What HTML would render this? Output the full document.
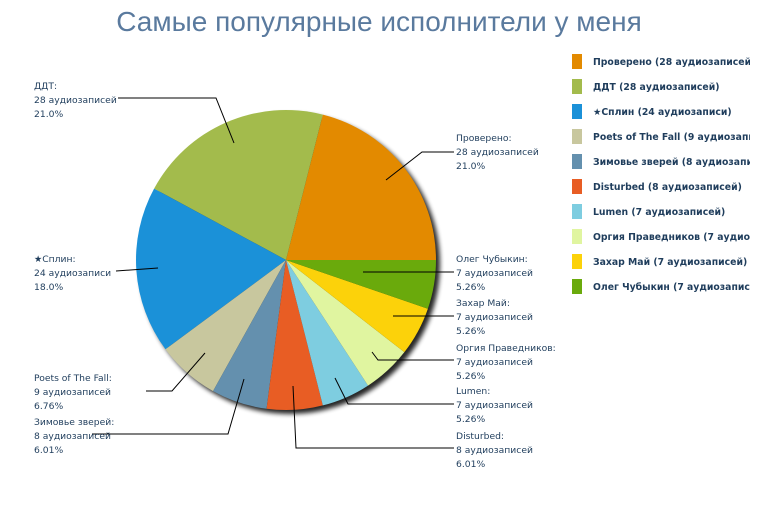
<!DOCTYPE html>
<html><head><meta charset="utf-8"><style>
html,body{margin:0;padding:0;background:#fff;}
body{width:760px;height:510px;overflow:hidden;position:relative;}
svg{position:absolute;left:0;top:0;}
.t{font-family:"DejaVu Sans","Liberation Sans",sans-serif;font-size:9.2px;fill:#1f3d5c;}
.lg{font-family:"DejaVu Sans","Liberation Sans",sans-serif;font-size:9.3px;font-weight:bold;fill:#1f3d5c;}
</style></head><body>
<svg width="760" height="510" viewBox="0 0 760 510">
<defs>
<filter id="sh" x="-20%" y="-20%" width="140%" height="140%"><feGaussianBlur stdDeviation="2.5"/></filter>
<clipPath id="cl"><rect x="0" y="0" width="750" height="510"/></clipPath>
</defs>
<text x="379" y="31" text-anchor="middle" font-family="Liberation Sans, sans-serif" font-size="28" fill="#5a7a9e">Самые популярные исполнители у меня</text>
<circle cx="290" cy="264" r="150" fill="#000" opacity="0.85" filter="url(#sh)"/>
<g id="pie"></g>
<g stroke="#000" stroke-width="1" fill="none">
<polyline points="386,180 422,152 454,152"/>
<polyline points="234,143 216,98 118,98"/>
<polyline points="158,268 116,271"/>
<polyline points="205,353 172,391 146,391"/>
<polyline points="244,379 228,434 92,434"/>
<polyline points="293,386 296,448 454,448"/>
<polyline points="335,378 348,404 454,404"/>
<polyline points="372,352 378,360 454,360"/>
<polyline points="393,316 454,316"/>
<polyline points="363,272 454,272"/>
</g>
<g class="t">
<text x="456" y="141">Проверено:</text><text x="456" y="155">28 аудиозаписей</text><text x="456" y="169">21.0%</text>
<text x="34" y="89">ДДТ:</text><text x="34" y="103">28 аудиозаписей</text><text x="34" y="117">21.0%</text>
<text x="34" y="262">★Сплин:</text><text x="34" y="276">24 аудиозаписи</text><text x="34" y="290">18.0%</text>
<text x="34" y="381">Poets of The Fall:</text><text x="34" y="395">9 аудиозаписей</text><text x="34" y="409">6.76%</text>
<text x="34" y="425">Зимовье зверей:</text><text x="34" y="439">8 аудиозаписей</text><text x="34" y="453">6.01%</text>
<text x="456" y="439">Disturbed:</text><text x="456" y="453">8 аудиозаписей</text><text x="456" y="467">6.01%</text>
<text x="456" y="394">Lumen:</text><text x="456" y="408">7 аудиозаписей</text><text x="456" y="422">5.26%</text>
<text x="456" y="351">Оргия Праведников:</text><text x="456" y="365">7 аудиозаписей</text><text x="456" y="379">5.26%</text>
<text x="456" y="306">Захар Май:</text><text x="456" y="320">7 аудиозаписей</text><text x="456" y="334">5.26%</text>
<text x="456" y="262">Олег Чубыкин:</text><text x="456" y="276">7 аудиозаписей</text><text x="456" y="290">5.26%</text>
</g>
<g clip-path="url(#cl)">
<rect x="572" y="54" width="10" height="15" fill="#e38a00"/><text class="lg" x="593" y="65">Проверено (28 аудиозаписей)</text>
<rect x="572" y="79" width="10" height="15" fill="#a3bb4c"/><text class="lg" x="593" y="90">ДДТ (28 аудиозаписей)</text>
<rect x="572" y="104" width="10" height="15" fill="#1b91d8"/><text class="lg" x="593" y="115">★Сплин (24 аудиозаписи)</text>
<rect x="572" y="129" width="10" height="15" fill="#c8c79e"/><text class="lg" x="593" y="140">Poets of The Fall (9 аудиозаписей)</text>
<rect x="572" y="154" width="10" height="15" fill="#6490ae"/><text class="lg" x="593" y="165">Зимовье зверей (8 аудиозаписей)</text>
<rect x="572" y="179" width="10" height="15" fill="#e85d24"/><text class="lg" x="593" y="190">Disturbed (8 аудиозаписей)</text>
<rect x="572" y="204" width="10" height="15" fill="#7ecde0"/><text class="lg" x="593" y="215">Lumen (7 аудиозаписей)</text>
<rect x="572" y="229" width="10" height="15" fill="#e0f5a0"/><text class="lg" x="593" y="240">Оргия Праведников (7 аудиозаписей)</text>
<rect x="572" y="254" width="10" height="15" fill="#fcd20a"/><text class="lg" x="593" y="265">Захар Май (7 аудиозаписей)</text>
<rect x="572" y="279" width="10" height="15" fill="#6aaa0c"/><text class="lg" x="593" y="290">Олег Чубыкин (7 аудиозаписей)</text>
</g>
</svg>
<script>
(function(){
var d=[28,28,24,9,8,8,7,7,7,7];
var c=["#e38a00","#a3bb4c","#1b91d8","#c8c79e","#6490ae","#e85d24","#7ecde0","#e0f5a0","#fcd20a","#6aaa0c"];
var cx=286,cy=260,r=150,tot=133,a=0,g=document.getElementById('pie'),h='';
for(var i=0;i<d.length;i++){
 var b=a+d[i]/tot*2*Math.PI;
 var x1=cx+r*Math.cos(a),y1=cy-r*Math.sin(a),x2=cx+r*Math.cos(b),y2=cy-r*Math.sin(b);
 var lg=(b-a)>Math.PI?1:0;
 h+='<path d="M'+cx+','+cy+' L'+x1.toFixed(2)+','+y1.toFixed(2)+' A'+r+','+r+' 0 '+lg+' 0 '+x2.toFixed(2)+','+y2.toFixed(2)+' Z" fill="'+c[i]+'"/>';
 a=b;
}
g.innerHTML=h;
})();
</script>
</body></html>
